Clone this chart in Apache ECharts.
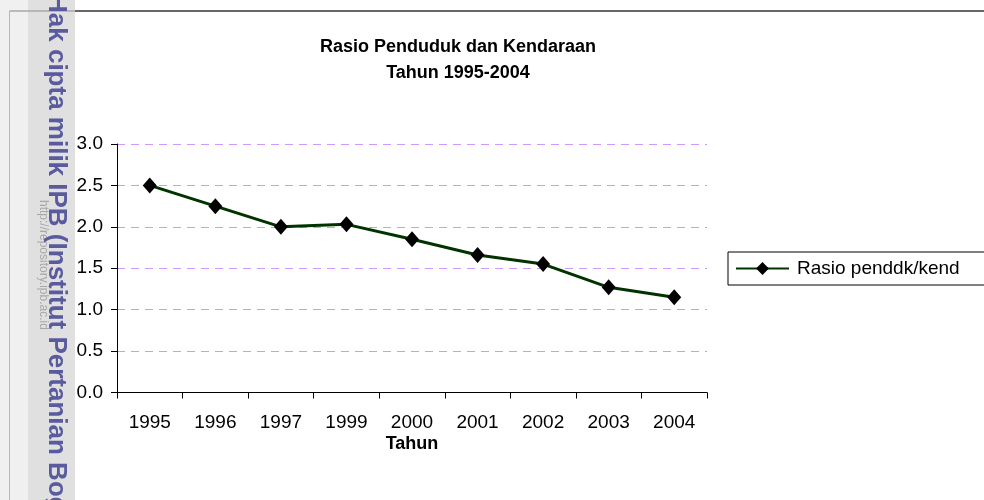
<!DOCTYPE html>
<html>
<head>
<meta charset="utf-8">
<script src="https://cdn.jsdelivr.net/npm/echarts@6/dist/echarts.min.js"></script>
<style>
  html, body { margin: 0; padding: 0; background: #fff; }
  #chart { width: 984px; height: 500px; }
</style>
</head>
<body>
<div id="chart"></div>
<script>
// data
const years = ["1995", "1996", "1997", "1999", "2000", "2001", "2002", "2003", "2004"];
const rasio = [2.50, 2.25, 2.00, 2.03, 1.85, 1.66, 1.55, 1.27, 1.15];
const yTicks = [0, 0.5, 1.0, 1.5, 2.0, 2.5, 3.0];

const chart = echarts.init(document.getElementById("chart"));
const font = "Liberation Sans, Arial, sans-serif";

const option = {
    animation: false,
    backgroundColor: "#ffffff",
    textStyle: { fontFamily: font },
    title: {
        text: "Rasio Penduduk dan Kendaraan\nTahun 1995-2004",
        left: 453,
        top: 29,
        textAlign: "center",
        textStyle: { fontSize: 18, fontWeight: "bold", color: "#000", lineHeight: 26, fontFamily: font }
    },
    legend: {
        data: ["Rasio penddk/kend"],
        left: 728,
        top: 252,
        padding: [7, 30, 7, 7],
        borderColor: "#000",
        borderWidth: 1,
        itemWidth: 53,
        itemHeight: 16,
        textStyle: { fontSize: 19, color: "#000", padding: [0, 0, 0, 3], fontFamily: font }
    },
    grid: { left: 117, right: 277, top: 144, bottom: 107.5, containLabel: false },
    xAxis: {
        type: "category",
        data: years,
        boundaryGap: true,
        name: "Tahun",
        nameLocation: "middle",
        nameGap: 43,
        nameMoveOverlap: false,
        nameTextStyle: { fontSize: 18, fontWeight: "bold", color: "#000", fontFamily: font },
        axisLine: { lineStyle: { color: "#000", width: 1 } },
        axisTick: { show: true, length: 6, lineStyle: { color: "#000" } },
        axisLabel: { fontSize: 19, color: "#000", margin: 21, fontFamily: font },
        splitLine: { show: false }
    },
    yAxis: {
        type: "value",
        min: yTicks[0],
        max: yTicks[yTicks.length - 1],
        interval: 0.5,
        axisLine: { show: true, lineStyle: { color: "#000", width: 1 } },
        axisTick: { show: true, length: 6, lineStyle: { color: "#000" } },
        axisLabel: { fontSize: 19, color: "#000", margin: 14, formatter: v => v.toFixed(1), fontFamily: font },
        splitLine: { show: true, lineStyle: { color: "#cc99ff", type: [8, 6], width: 1 } }
    },
    series: [
        {
            name: "Rasio penddk/kend",
            type: "line",
            data: rasio,
            symbol: "diamond",
            symbolSize: [14, 16],
            itemStyle: { color: "#000" },
            lineStyle: { color: "#003300", width: 3 }
        }
    ],
    graphic: [
        { type: "rect", z: -10, shape: { x: 0, y: 0, width: 28, height: 500 }, style: { fill: "#f0f0f0" } },
        { type: "rect", z: -10, shape: { x: 28, y: 0, width: 47, height: 500 }, style: { fill: "#e0e0e0" } },
        { type: "line", shape: { x1: 9.5, y1: 11, x2: 9.5, y2: 500 }, style: { stroke: "#b8b8b8", lineWidth: 1 } },
        { type: "line", shape: { x1: 9.5, y1: 11, x2: 75, y2: 11 }, style: { stroke: "#a8a8a8", lineWidth: 1.5 } },
        { type: "line", shape: { x1: 75, y1: 11, x2: 984, y2: 11 }, style: { stroke: "#333", lineWidth: 1.5 } },
        {
            type: "text", x: 43, y: 200, rotation: -Math.PI / 2,
            style: { text: "http://repository.ipb.ac.id", fill: "rgba(120,120,120,0.55)", font: "12px " + font, textAlign: "left", textVerticalAlign: "middle" }
        },
        {
            type: "text", x: 56, y: -6, rotation: -Math.PI / 2,
            style: { text: "Hak cipta milik IPB (Institut Pertanian Bogor)", fill: "#5a5a9e", font: "bold 26px " + font, textAlign: "left", textVerticalAlign: "middle" }
        }
    ]
};
chart.setOption(option);
</script>
</body>
</html>
